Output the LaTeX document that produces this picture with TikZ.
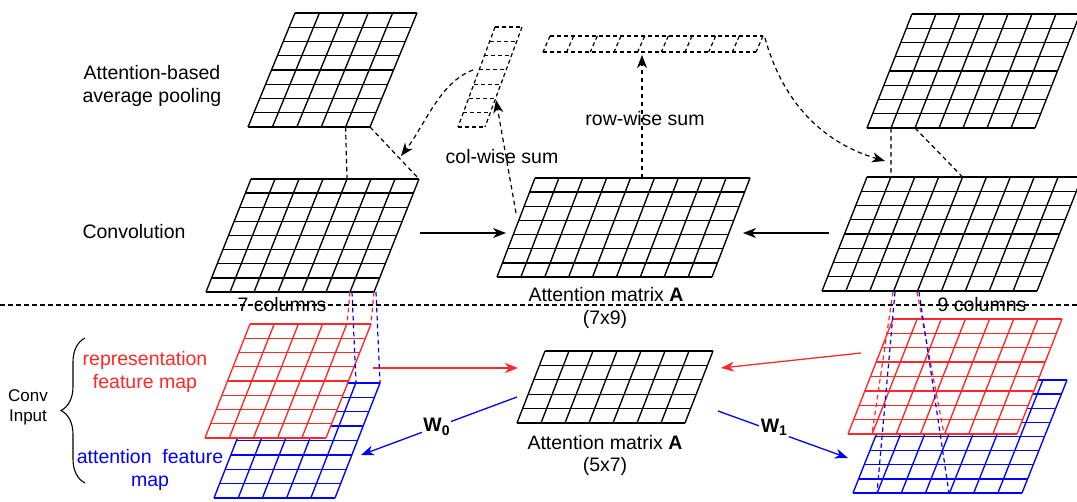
\documentclass[tikz,border=0pt]{standalone}
\usepackage{fontspec}
\setmainfont{Liberation Sans}
\usetikzlibrary{arrows.meta,decorations.pathreplacing}
\definecolor{fred}{RGB}{255,40,40}
\definecolor{fblue}{RGB}{0,0,255}
% #1 style, #2 name, #3 x top-left, #4 y top, #5 width, #6 height, #7 skew, #8 cols, #9 rows
\newcommand\pgrid[9]{%
  \coordinate (#2-tl) at (#3,#4);
  \coordinate (#2-tr) at ({#3+#5},#4);
  \coordinate (#2-bl) at ({#3-#7},{#4+#6});
  \coordinate (#2-br) at ({#3+#5-#7},{#4+#6});
  \fill[white] (#2-tl) -- (#2-tr) -- (#2-br) -- (#2-bl) -- cycle;
  \foreach \k in {0,...,#8}{\draw[#1] ({#3+\k*#5/#8},#4) -- ({#3-#7+\k*#5/#8},{#4+#6});}
  \foreach \j in {0,...,#9}{\draw[#1] ({#3-#7*\j/#9},{#4+\j*#6/#9}) -- ({#3+#5-#7*\j/#9},{#4+\j*#6/#9});}
}
\tikzset{
  gblack/.style={line width=1.35pt,black},
  gred/.style={line width=1.35pt,fred},
  gblue/.style={line width=1.35pt,fblue},
  gdash/.style={line width=1.2pt,black,dash pattern=on 4pt off 3pt},
  dl/.style={line width=1.2pt,dash pattern=on 4.5pt off 3.5pt},
  tip/.style={-{Stealth[length=13pt,width=10pt,inset=4pt]}},
  lbl/.style={inner sep=0pt,font=\fontsize{19.5}{23}\selectfont,align=center},
  small/.style={inner sep=0pt,font=\fontsize{17}{20}\selectfont,align=center},
  wlbl/.style={fill=white,inner sep=1.5pt,font=\fontsize{19.5}{23}\selectfont\bfseries},
}
\begin{document}
\begin{tikzpicture}[x=1pt,y=-1pt]
\useasboundingbox (0,0) rectangle (1077,501);
\clip (0,0) rectangle (1077,501);

% grids
\pgrid{gblack}{poolL}{295}{13}{122}{114}{47}{5}{8}
\pgrid{gblack}{poolR}{912}{14}{168}{114}{45}{7}{8}
\pgrid{gdash}{colv}{495}{27}{27}{100}{37}{1}{7}
\pgrid{gdash}{rowv}{550}{36}{213}{16}{7}{9}{1}
\pgrid{gblack}{convL}{251}{179}{168}{113}{45}{7}{8}
\pgrid{gblack}{convR}{867}{177}{215}{114}{45}{9}{8}
\pgrid{gblack}{attA}{535}{178}{215}{99}{38}{9}{7}
\pgrid{gblue}{blueL}{259}{383}{121}{115}{45}{5}{8}
\pgrid{gred}{redL}{250}{324}{121}{114}{45}{5}{8}
\pgrid{gblue}{blueR}{898}{380}{169}{113}{45}{7}{8}
\pgrid{gred}{redR}{893}{319}{169}{115}{45}{7}{8}
\pgrid{gblack}{attB}{545}{351}{168}{72}{28}{7}{5}

% labels
\node[lbl] (tpool) at (152,86) {Attention-based\\average pooling};
\node[lbl] (tconv) at (134,232) {Convolution};
\node[lbl] (trow) at (645,119) {row-wise sum};
\node[lbl] (tcol) at (502,157) {col-wise sum};
\node[lbl] (tattA) at (606,295) {Attention matrix \textbf{A}};
\node[lbl] (tattAs) at (605,319) {(7x9)};
\node[lbl] (tattB) at (605,443) {Attention matrix \textbf{A}};
\node[lbl] (tattBs) at (605,466) {(5x7)};
\node[lbl] (t7) at (282,305) {7 columns};
\node[lbl] (t9) at (982,305) {9 columns};
\node[lbl,text=fred] (trep) at (145,372) {representation\\feature map};
\node[lbl,text=fblue] (tatt) at (150,470) {attention\ \ feature\\map};
\node[small] (tin) at (28,407) {Conv\\Input};

% brace
\coordinate (brb) at (85,483);
\coordinate (brt) at (85,338);
\draw[line width=1.1pt,decorate,decoration={brace,amplitude=24pt}] (brb) -- (brt);

% separator
\coordinate (sepL) at (0,305);
\coordinate (sepR) at (1077,305);
\draw[dl] (sepL) -- (sepR);

% pooling links
\coordinate (plb4) at ({248+4*122/5},127);
\coordinate (clt4) at ({251+4*24},179);
\draw[dl] (plb4) -- (clt4);
\draw[dl] (poolL-br) -- (convL-tr);
\coordinate (prb1) at ({867+168/7},128);
\coordinate (crt1) at ({867+215/9},177);
\coordinate (prb2) at ({867+2*168/7},128);
\coordinate (crt4) at ({867+4*215/9},177);
\draw[dl] (prb1) -- (crt1);
\draw[dl] (prb2) -- (crt4);

% sums
\coordinate (rs0) at (642,178);
\coordinate (rs1) at (642,55);
\draw[dl,tip] (rs0) -- (rs1);
\coordinate (cs0) at (516,213);
\coordinate (cs1) at (496,100);
\draw[dl,tip] (cs0) -- (cs1);
\coordinate (cv0) at (473,70);
\coordinate (cv1) at (401,156);
\draw[dl,tip] (cv0) .. controls (440,82) and (425,125) .. (cv1);
\coordinate (rv0) at (765,38);
\coordinate (rv1) at (885,161);
\draw[dl,tip] (rv0) .. controls (785,110) and (830,145) .. (rv1);

% conv -> attention
\coordinate (al0) at (420,233);
\coordinate (al1) at (506,233);
\draw[line width=1.3pt,tip] (al0) -- (al1);
\coordinate (ar0) at (829,233);
\coordinate (ar1) at (743,233);
\draw[line width=1.3pt,tip] (ar0) -- (ar1);

% red arrows
\coordinate (rl0) at (373,368);
\coordinate (rl1) at (518,368);
\draw[line width=1.3pt,fred,tip] (rl0) -- (rl1);
\coordinate (rr0) at (861,353);
\coordinate (rr1) at (721,368);
\draw[line width=1.3pt,fred,tip] (rr0) -- (rr1);

% blue arrows
\coordinate (bl0) at (517,397);
\coordinate (bl1) at (361,455);
\draw[line width=1.3pt,fblue,tip] (bl0) -- node[wlbl,pos=0.516,text=black] (w0) {W\raisebox{-0.35ex}{\fontsize{14}{16}\selectfont\bfseries 0}} (bl1);
\coordinate (br0) at (718,411);
\coordinate (br1) at (848,458);
\draw[line width=1.3pt,fblue,tip] (br0) -- node[wlbl,pos=0.43,yshift=4pt,text=black] (w1) {W\raisebox{-0.35ex}{\fontsize{14}{16}\selectfont\bfseries 1}} (br1);

% window dashed lines (left)
\draw[dl,fred] (350,292) -- (347,324);
\draw[dl,fred] (374,292) -- (371,324);
\draw[dl,fblue] (352,292) -- (356,383);
\draw[dl,fblue] (376,292) -- (380,383);
% window dashed lines (right)
\draw[dl,fred] (893,292) -- (872,434);
\draw[dl,fred] (917,292) -- (944,434);
\draw[dl,fblue] (895,292) -- (877,493);
\draw[dl,fblue] (919,292) -- (949,493);
\end{tikzpicture}
\end{document}
